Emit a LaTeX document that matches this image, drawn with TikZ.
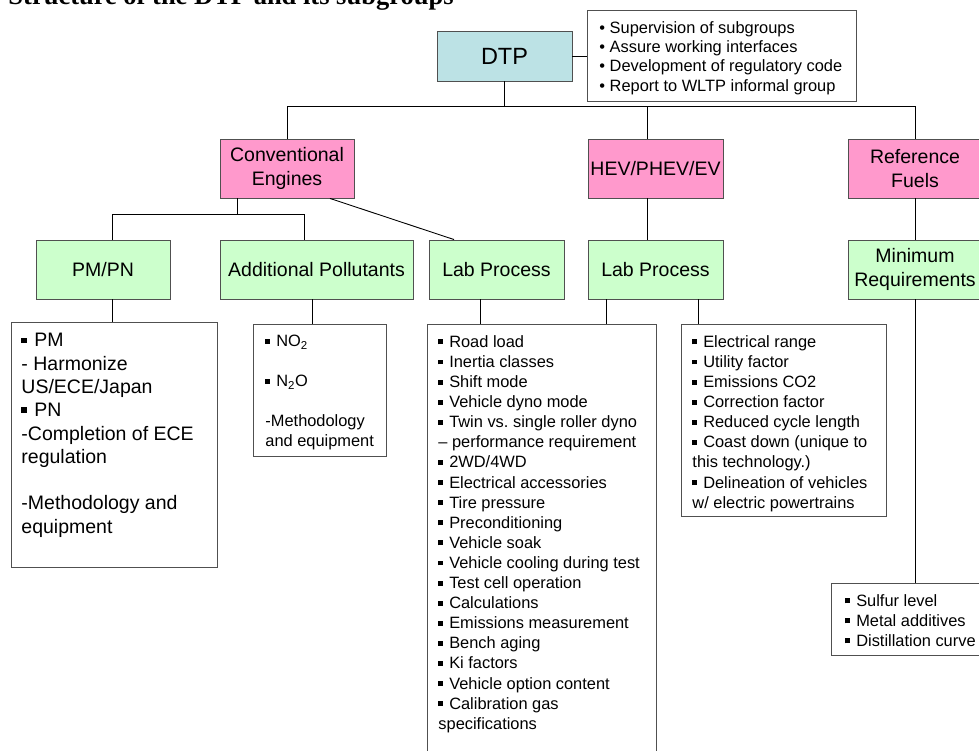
\documentclass[tikz,border=0pt]{standalone}
\usepackage{fontspec}
\setmainfont{Liberation Sans}
\newfontfamily\titlefont{Liberation Serif}
\definecolor{dtpblue}{HTML}{BCE2E5}
\definecolor{grouppink}{HTML}{FF99CC}
\definecolor{subgreen}{HTML}{CCFFCC}
\definecolor{edgegray}{HTML}{505050}
\newcommand{\sqb}{\rule[0.18em]{0.3em}{0.3em}\hspace{0.36em}}
\newcommand{\boxbody}[3]{\parbox[t][#1][t]{#2}{#3}}

\begin{document}
\begin{tikzpicture}[x=1pt, y=-1pt, line width=0.9pt,
        every node/.style={inner sep=0pt, font=\fontsize{19.5}{24.5}\selectfont},
        unit/.style={draw=edgegray, align=center},
        head/.style={unit, fill=dtpblue, minimum width=135pt, minimum height=50pt, font=\fontsize{23.5}{28}\selectfont},
        group/.style={unit, fill=grouppink, minimum height=59pt},
        sub/.style={unit, fill=subgreen, minimum height=59pt},
        list/.style={draw=edgegray, anchor=north west, inner xsep=11pt, inner ysep=11pt, font=\fontsize{16.4}{20.1}\selectfont},
        link/.style={draw=black}]

    \useasboundingbox (0,0) rectangle (979,751);

    \node[anchor=base west, font=\titlefont\bfseries\fontsize{26.5}{30}\selectfont] (title) at (8,5) {Structure of the DTP and its subgroups};

    % top level
    \node[head] (dtp) at (504.5,56) {DTP};
    \node[list, inner xsep=12pt, font=\fontsize{16.4}{19.3}\selectfont] (tasks) at (587,10) {\boxbody{69pt}{245pt}{%
        • Supervision of subgroups\\
        • Assure working interfaces\\
        • Development of regulatory code\\
        • Report to WLTP informal group}};

    % groups
    \node[group, minimum width=134pt] (conv) at (287,168.5) {Conventional\\Engines};
    \node[group, minimum width=135pt] (hev) at (655.5,168.5) {HEV/PHEV/EV};
    \node[group, minimum width=134pt] (fuel) at (915,168.5) {Reference\\Fuels};

    % subgroups
    \node[sub, minimum width=134pt] (pmpn) at (103,269.5) {PM/PN};
    \node[sub, minimum width=193pt] (addpol) at (316.5,269.5) {Additional Pollutants};
    \node[sub, minimum width=135pt] (labA) at (496.5,269.5) {Lab Process};
    \node[sub, minimum width=135pt] (labB) at (655.5,269.5) {Lab Process};
    \node[sub, minimum width=134pt] (minreq) at (915,269.5) {Minimum\\Requirements};

    % work items
    \node[list, inner xsep=10pt, font=\fontsize{19.5}{23.3}\selectfont] (pmlist) at (11,322) {\boxbody{223pt}{186pt}{%
        \sqb PM\\
        - Harmonize\\
        US/ECE/Japan\\
        \sqb PN\\
        -Completion of ECE\\
        regulation\\[23.3pt]
        -Methodology and\\
        equipment}};
    \node[list, inner xsep=12pt, font=\fontsize{16.4}{20}\selectfont] (addlist) at (253,324) {\boxbody{110pt}{109pt}{%
        \sqb NO\textsubscript{2}\\[20pt]
        \sqb N\textsubscript{2}O\\[20pt]
        -Methodology\\
        and equipment}};
    \node[list] (lablist) at (427,324) {\boxbody{440pt}{207pt}{%
        \sqb Road load\\
        \sqb Inertia classes\\
        \sqb Shift mode\\
        \sqb Vehicle dyno mode\\
        \sqb Twin vs.\ single roller dyno\\
        – performance requirement\\
        \sqb 2WD/4WD\\
        \sqb Electrical accessories\\
        \sqb Tire pressure\\
        \sqb Preconditioning\\
        \sqb Vehicle soak\\
        \sqb Vehicle cooling during test\\
        \sqb Test cell operation\\
        \sqb Calculations\\
        \sqb Emissions measurement\\
        \sqb Bench aging\\
        \sqb Ki factors\\
        \sqb Vehicle option content\\
        \sqb Calibration gas\\
        specifications}};
    \node[list] (hevlist) at (681,324) {\boxbody{170pt}{183pt}{%
        \sqb Electrical range\\
        \sqb Utility factor\\
        \sqb Emissions CO2\\
        \sqb Correction factor\\
        \sqb Reduced cycle length\\
        \sqb Coast down (unique to\\
        this technology.)\\
        \sqb Delineation of vehicles\\
        w/ electric powertrains}};
    \node[list, inner xsep=14pt, font=\fontsize{16.4}{20}\selectfont] (fuellist) at (831,583) {\boxbody{50pt}{132pt}{%
        \sqb Sulfur level\\
        \sqb Metal additives\\
        \sqb Distillation curve}};

    % connectors
    \draw[link] (dtp.east) -- (tasks.west |- dtp.east);
    \draw[link] (dtp.south) -- ++(0,26);
    \draw[link] (conv.north) -- ++(0,-32) -| (fuel.north);
    \draw[link] ([xshift=-8.5pt]hev.north) -- ++(0,-32);
    \draw[link] ([xshift=-50pt]conv.south) -- ++(0,17);
    \draw[link] ([xshift=9pt]pmpn.north) -- ++(0,-25) -| ([xshift=-12.5pt]addpol.north);
    \draw[link] ([xshift=43pt]conv.south) -- ([xshift=-42.5pt]labA.north);
    \draw[link] ([xshift=-8.5pt]hev.south) -- ([xshift=-8.5pt]labB.north);
    \draw[link] (fuel.south) -- (minreq.north);
    \draw[link] ([xshift=9pt]pmpn.south) -- ++(0,23);
    \draw[link] ([xshift=-4.5pt]addpol.south) -- ++(0,25);
    \draw[link] ([xshift=-16.5pt]labA.south) -- ++(0,25);
    \draw[link] ([xshift=-49.5pt]labB.south) -- ++(0,25);
    \draw[link] ([xshift=42.5pt]labB.south) -- ++(0,25);
    \draw[link] (minreq.south) -- ++(0,284);
\end{tikzpicture}
\end{document}
